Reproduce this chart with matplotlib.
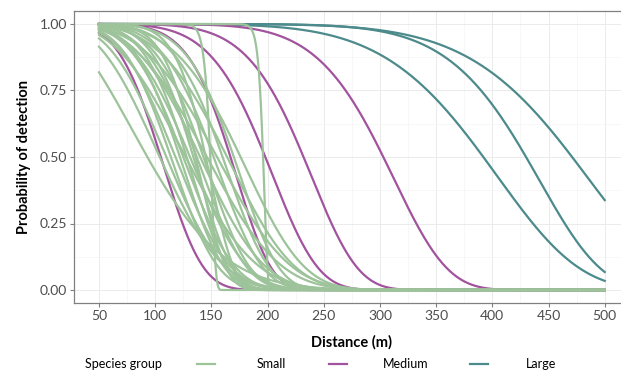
import numpy as np
import matplotlib.pyplot as plt
from matplotlib.lines import Line2D

# One detection curve per species, p = 0.5 ** ((d / d50) ** shape),
# with d50 (distance where p = 0.5) and shape
small_d50 = [93, 104, 110, 114, 118, 122, 125, 127, 128, 131, 134, 136, 137,
             140, 143, 145, 146, 149, 152, 155, 160, 164, 170, 176, 196]
small_shape = [2.0, 2.8, 3.2, 4.0, 3.6, 4.5, 4.0, 3.0, 5.0, 3.8, 5.5, 7.0, 4.5,
               3.6, 5.0, 8.0, 3.3, 40, 5.0, 3.5, 5.5, 4.0, 6.0, 4.5, 65]

medium_d50 = [105, 167, 198, 232, 303]
medium_shape = [4.1, 6.5, 6.0, 6.8, 7.5]

large_d50 = [392, 430, 471]
large_shape = [6.5, 9.0, 7.5]

groups = ["Small", "Medium", "Large"]
colors = {"Small": "#9dc39a", "Medium": "#a2539e", "Large": "#4c8a8b"}

x_ticks = [50, 100, 150, 200, 250, 300, 350, 400, 450, 500]
y_ticks = [0.0, 0.25, 0.5, 0.75, 1.0]

distance = np.linspace(50, 500, 1801)


def detection(d50, shape):
    return 0.5 ** ((distance / d50) ** shape)


plt.rcParams["font.family"] = ["Lato", "DejaVu Sans"]

fig = plt.figure(figsize=(6.21, 3.74), dpi=100)
ax = fig.add_axes([73.7 / 621, 70.7 / 374, 556.3 / 621, 292.6 / 374])

for d50, shape in zip(large_d50, large_shape):
    ax.plot(distance, detection(d50, shape), color=colors["Large"], lw=1.6, zorder=2)
for d50, shape in zip(medium_d50, medium_shape):
    ax.plot(distance, detection(d50, shape), color=colors["Medium"], lw=1.6, zorder=3)
for d50, shape in zip(small_d50, small_shape):
    ax.plot(distance, detection(d50, shape), color=colors["Small"], lw=1.6, zorder=4)

ax.set_xlim(27.5, 522.5)
ax.set_ylim(-0.05, 1.05)
ax.set_xticks(x_ticks)
ax.set_xticks([75, 125, 175, 225, 275, 325, 375, 425, 475], minor=True)
ax.set_yticks(y_ticks)
ax.set_yticks([0.125, 0.375, 0.625, 0.875], minor=True)
ax.set_yticklabels([f"{v:.2f}" for v in y_ticks])
ax.grid(which="major", color="#ebebeb", lw=0.7, zorder=0)
ax.grid(which="minor", color="#f4f4f4", lw=0.5, zorder=0)
ax.set_axisbelow(True)
for s in ax.spines.values():
    s.set_color("#808080")
    s.set_linewidth(0.9)
ax.tick_params(which="major", length=3, width=0.8, color="#808080",
               labelsize=10, labelcolor="#4d4d4d", pad=2)
ax.tick_params(which="minor", length=0)

ax.set_xlabel("Distance (m)", fontsize=10.5, fontweight="bold", labelpad=9)
ax.set_ylabel("Probability of detection", fontsize=10.5, fontweight="bold", labelpad=6)

# legend along the bottom
ly = 1 - 364 / 374
fig.text(85 / 621, ly, "Species group", fontsize=9, va="center", ha="left")
key_x = [197, 329, 470]
label_x = [257, 383, 526]
for g, kx, tx in zip(groups, key_x, label_x):
    fig.add_artist(Line2D([kx / 621, (kx + 18) / 621], [ly, ly],
                          color=colors[g], lw=1.6, transform=fig.transFigure))
    fig.text(tx / 621, ly, g, fontsize=9, va="center", ha="left")

fig.savefig("out.png", dpi=100)
